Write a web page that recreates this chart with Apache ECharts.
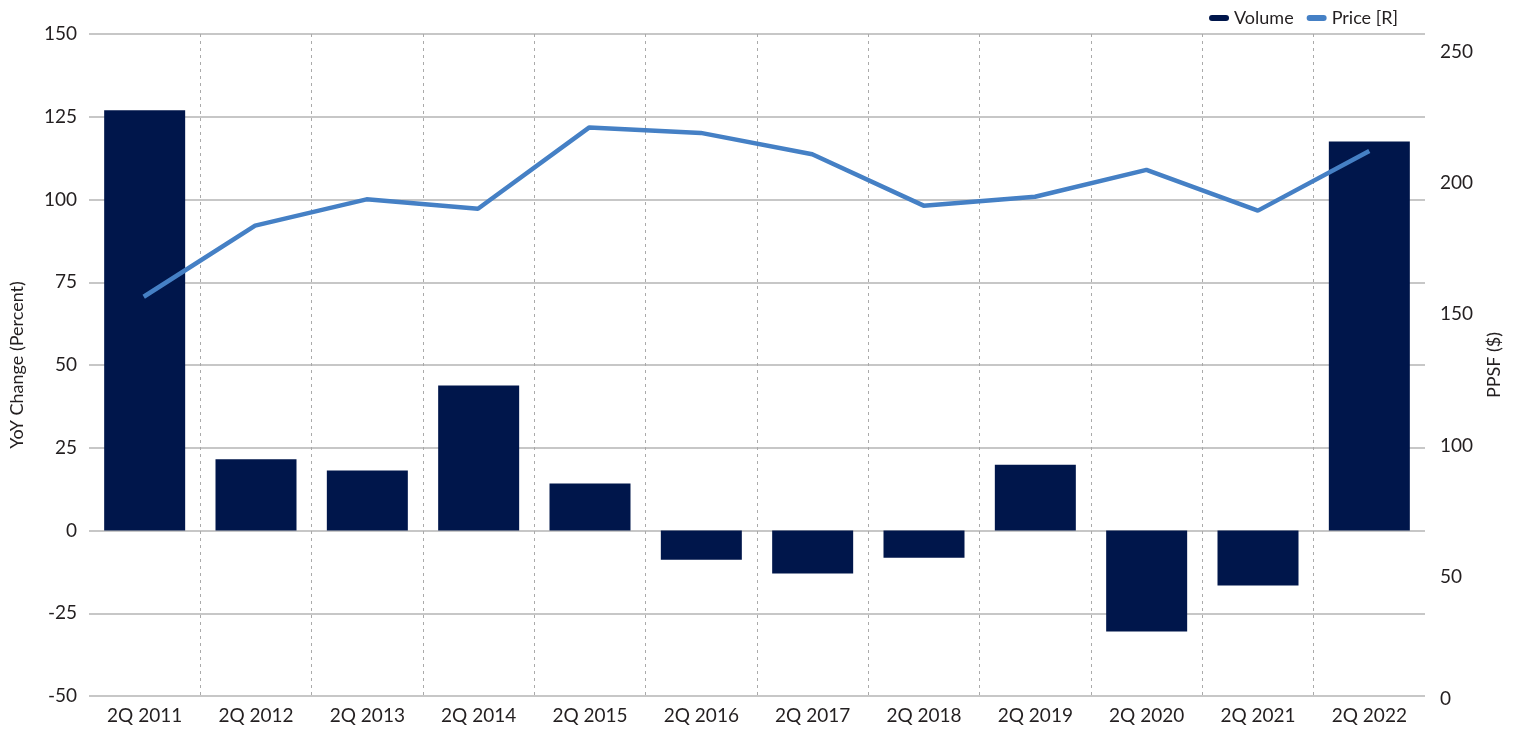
<!DOCTYPE html>
<html lang="en">
<head>
    <meta charset="UTF-8">
    <title>Volume and Price</title>
    <script src="https://cdn.jsdelivr.net/npm/echarts@6.0.0/dist/echarts.min.js"></script>
    <style>
        html, body { margin: 0; padding: 0; background: #fff; }
        #chart { width: 1517px; height: 731px; }
    </style>
</head>
<body>
<div id="chart"></div>
<script>
    // data
    var categories = ['2Q 2011', '2Q 2012', '2Q 2013', '2Q 2014', '2Q 2015', '2Q 2016',
        '2Q 2017', '2Q 2018', '2Q 2019', '2Q 2020', '2Q 2021', '2Q 2022'];
    var volume = [127, 21.5, 18.1, 43.8, 14.2, -8.8, -13, -8.2, 19.9, -30.5, -16.6, 117.5];
    var price = [156.6, 183.7, 193.7, 190.1, 221.1, 219, 210.9, 191.3, 194.7, 204.9, 189.4, 212.1];

    var fontFamily = 'Lato, "Noto Sans", sans-serif';
    var textColor = '#231f20';
    // capsule shaped legend marker
    var capsule = 'path://M3,0 L17,0 A3,3 0 0 1 17,6 L3,6 A3,3 0 0 1 3,0 Z';

    var myChart = echarts.init(document.getElementById('chart'));

    var option = {
        animation: false,
        textStyle: { fontFamily: fontFamily },
        legend: {
            right: 114,
            top: 4,
            itemWidth: 20,
            itemHeight: 6,
            itemGap: 13,
            textStyle: { fontSize: 18, color: textColor, fontFamily: fontFamily },
            data: [
                { name: 'Volume', icon: capsule },
                { name: 'Price [R]', icon: capsule }
            ]
        },
        grid: [
            // bars, left axis
            { left: 88, right: 92, top: 34, bottom: 35 },
            // line, right axis (its scale sits a little lower)
            { left: 88, right: 92, top: 51.5, bottom: 23 }
        ],
        xAxis: [
            {
                type: 'category',
                gridIndex: 0,
                data: categories,
                axisLine: { show: false },
                axisTick: { show: false },
                axisLabel: { fontSize: 19, color: textColor, margin: 10, fontFamily: fontFamily },
                splitLine: {
                    show: true,
                    interval: 0,
                    showMinLine: false,
                    showMaxLine: false,
                    lineStyle: { type: [3, 4], color: '#aaa', width: 1 }
                }
            },
            {
                type: 'category',
                gridIndex: 1,
                data: categories,
                show: false
            }
        ],
        yAxis: [
            {
                type: 'value',
                gridIndex: 0,
                min: -50,
                max: 150,
                interval: 25,
                name: 'YoY Change (Percent)',
                nameLocation: 'middle',
                nameGap: 63,
                nameTextStyle: { fontSize: 18, color: textColor, fontFamily: fontFamily },
                axisLine: { show: false },
                axisTick: { show: false },
                axisLabel: { fontSize: 19, color: textColor, margin: 12, fontFamily: fontFamily },
                splitLine: { lineStyle: { color: '#b4b4b4', width: 1.5 } }
            },
            {
                type: 'value',
                gridIndex: 1,
                position: 'right',
                min: 0,
                max: 250,
                interval: 50,
                axisLine: { show: false },
                axisTick: { show: false },
                splitLine: { show: false },
                axisLabel: {
                    fontSize: 19,
                    color: textColor,
                    margin: 15,
                    fontFamily: fontFamily,
                    formatter: function (v) {
                        return v === 0 ? '{z|0}' : String(v);
                    },
                    rich: {
                        z: { fontSize: 19, color: textColor, fontFamily: fontFamily, padding: [0, 0, 18, 0] }
                    }
                }
            },
            {
                // only carries the right axis title, centred on the main grid
                type: 'value',
                gridIndex: 0,
                position: 'right',
                min: 0,
                max: 1,
                name: 'PPSF ($)',
                nameLocation: 'middle',
                nameGap: 60,
                nameTextStyle: { fontSize: 18, color: textColor, fontFamily: fontFamily },
                axisLine: { show: false },
                axisTick: { show: false },
                axisLabel: { show: false },
                splitLine: { show: false }
            }
        ],
        series: [
            {
                name: 'Volume',
                type: 'bar',
                xAxisIndex: 0,
                yAxisIndex: 0,
                barWidth: 81,
                itemStyle: { color: '#00164b' },
                data: volume
            },
            {
                name: 'Price [R]',
                type: 'line',
                xAxisIndex: 1,
                yAxisIndex: 1,
                symbol: 'none',
                lineStyle: { color: '#4580c5', width: 4.5 },
                itemStyle: { color: '#4580c5' },
                data: price
            }
        ]
    };

    myChart.setOption(option);
</script>
</body>
</html>
